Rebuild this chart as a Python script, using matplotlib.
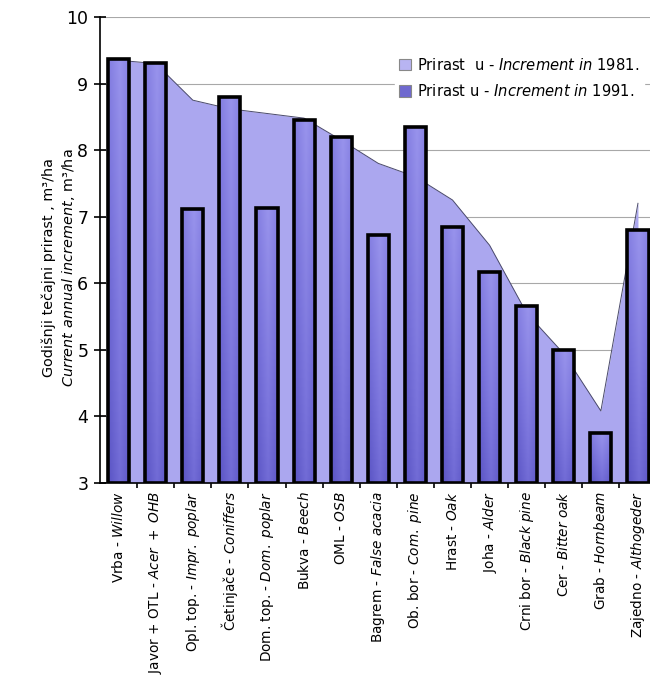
import numpy as np
import matplotlib
matplotlib.use("Agg")
import matplotlib.pyplot as plt
from matplotlib.colors import LinearSegmentedColormap
from matplotlib.patches import Rectangle

# data
species = ["Vrba - $\\mathit{Willow}$",
           "Javor + OTL - $\\mathit{Acer\\ +\\ OHB}$",
           "Opl. top. - $\\mathit{Impr.\\ poplar}$",
           "Četinjače - $\\mathit{Coniffers}$",
           "Dom. top. - $\\mathit{Dom.\\ poplar}$",
           "Bukva - $\\mathit{Beech}$",
           "OML - $\\mathit{OSB}$",
           "Bagrem - $\\mathit{False\\ acacia}$",
           "Ob. bor - $\\mathit{Com.\\ pine}$",
           "Hrast - $\\mathit{Oak}$",
           "Joha - $\\mathit{Alder}$",
           "Crni bor - $\\mathit{Black\\ pine}$",
           "Cer - $\\mathit{Bitter\\ oak}$",
           "Grab - $\\mathit{Hornbeam}$",
           "Zajedno - $\\mathit{Althogeder}$"]
inc_1981 = [9.35, 9.30, 8.75, 8.62, 8.55, 8.48, 8.15, 7.80, 7.60, 7.25, 6.57, 5.55, 4.94, 4.08, 7.20]
inc_1991 = [9.37, 9.31, 7.12, 8.80, 7.13, 8.45, 8.20, 6.72, 8.35, 6.85, 6.17, 5.66, 5.00, 3.75, 6.80]
yticks = [3, 4, 5, 6, 7, 8, 9, 10]

FONT = ["Liberation Sans Narrow", "DejaVu Sans"]
plt.rcParams["font.family"] = FONT
plt.rcParams["mathtext.fontset"] = "custom"
plt.rcParams["mathtext.rm"] = "Liberation Sans Narrow"
plt.rcParams["mathtext.it"] = "Liberation Sans Narrow:italic"

area_col = "#aba7ef"
bar_cmap = LinearSegmentedColormap.from_list("bars", ["#5a54c4", "#7a74dc", "#9893ec"])

fig = plt.figure(figsize=(6.5, 6.8), dpi=100)
ax = fig.add_axes([0.154, 0.29, 0.856, 0.685])

n = len(species)
x = np.arange(n)

# grid
for t in yticks[1:]:
    ax.axhline(t, color="#a8a8a8", lw=0.8, zorder=1)

# 1981 area
ax.fill_between(x, inc_1981, 3, color=area_col, zorder=2, lw=0)
ax.plot(x, inc_1981, color="#4a4a6a", lw=0.7, zorder=2)

# 1991 bars with gradient fill
w = 0.57
grad = np.linspace(0, 1, 50)
yy, xx = np.meshgrid(grad, np.linspace(0, 1, 50), indexing="ij")
shade = 0.6 * yy + 0.4 * (1 - np.abs(xx - 0.55) * 1.6)
for i, v in enumerate(inc_1991):
    ax.imshow(shade, extent=[i - w / 2, i + w / 2, 3, v], origin="lower",
              cmap=bar_cmap, aspect="auto", zorder=3, interpolation="bilinear")
    ax.add_patch(Rectangle((i - w / 2, 3), w, v - 3, fill=False,
                           edgecolor="black", lw=2.6, zorder=4))
ax.set_xlim(-0.5, n - 0.5)
ax.set_ylim(3, 10)

# axes look
for s in ["top", "right"]:
    ax.spines[s].set_visible(False)
ax.spines["left"].set_linewidth(1.2)
ax.spines["bottom"].set_linewidth(1.2)
ax.set_yticks(yticks)
ax.set_yticklabels([str(t) for t in yticks], fontsize=12.5)
ax.tick_params(axis="y", direction="inout", length=9, width=1.2, pad=4)
ax.set_xticks(x)
ax.set_xticklabels(species, rotation=90, fontsize=9.8)
ax.set_xticks(np.arange(n) + 0.5, minor=True)
ax.tick_params(axis="x", which="major", length=0, pad=6)
ax.tick_params(axis="x", which="minor", direction="inout", length=7, width=1.2)

ax.set_ylabel("Godišnji tečajni prirast , m³/ha\n"
              "$\\mathit{Current\\ annual\\ increment}$, m³/ha",
              fontsize=10.4, linespacing=1.25)
ax.yaxis.set_label_coords(-0.042, 0.462)

# legend
h1 = Rectangle((0, 0), 1, 1, facecolor="#b8b4f2", edgecolor="#888888", lw=0.8)
h2 = Rectangle((0, 0), 1, 1, facecolor="#6f69cf", edgecolor="#888888", lw=0.8)
leg = ax.legend([h1, h2],
                ["Prirast  u - $\\mathit{Increment\\ in}$ 1981.",
                 "Prirast u - $\\mathit{Increment\\ in}$ 1991."],
                loc="upper right", bbox_to_anchor=(0.99, 0.94), frameon=True,
                fontsize=10.6, handlelength=0.8, handleheight=0.8,
                handletextpad=0.4, labelspacing=0.7, borderpad=0.3)
leg.get_frame().set_edgecolor("white")
leg.get_frame().set_facecolor("white")
leg.get_frame().set_alpha(1)
leg.set_zorder(5)

fig.savefig("out.png", dpi=100)
